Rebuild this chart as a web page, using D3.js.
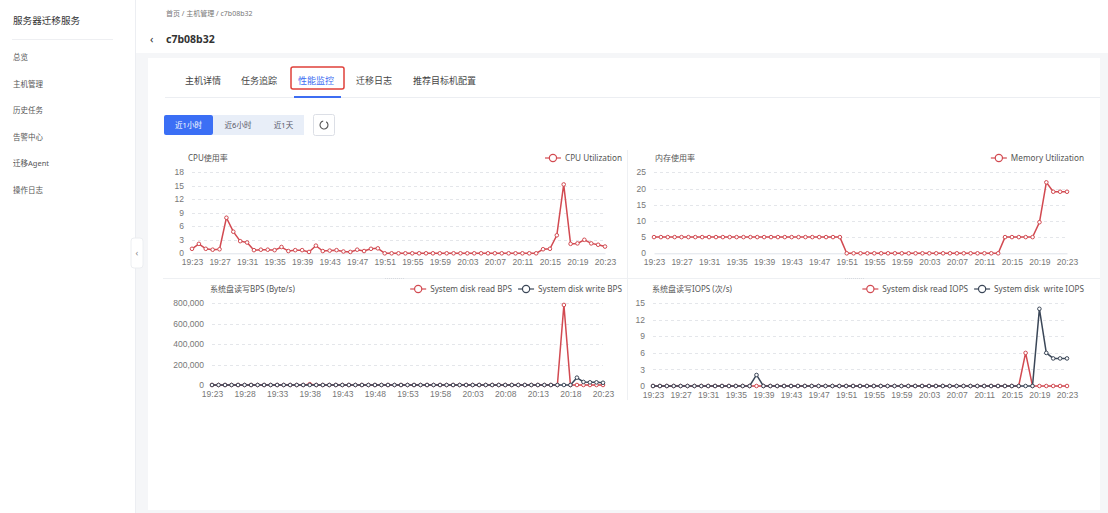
<!DOCTYPE html>
<html>
<head>
<meta charset="utf-8">
<script src="https://cdn.jsdelivr.net/npm/d3@7"></script>
<style>
  html, body { margin: 0; padding: 0; background: #f5f6f8; }
  svg { display: block; font-family: "Noto Sans", "Noto Sans CJK SC", sans-serif; }
</style>
</head>
<body>
<div id="page"></div>
<script>
// categories (one per minute)
const times = ["19:23","19:24","19:25","19:26","19:27","19:28","19:29","19:30","19:31","19:32",
  "19:33","19:34","19:35","19:36","19:37","19:38","19:39","19:40","19:41","19:42",
  "19:43","19:44","19:45","19:46","19:47","19:48","19:49","19:50","19:51","19:52",
  "19:53","19:54","19:55","19:56","19:57","19:58","19:59","20:00","20:01","20:02",
  "20:03","20:04","20:05","20:06","20:07","20:08","20:09","20:10","20:11","20:12",
  "20:13","20:14","20:15","20:16","20:17","20:18","20:19","20:20","20:21","20:22","20:23"];

// tick labels
const ticks4 = ["19:23","19:27","19:31","19:35","19:39","19:43","19:47","19:51","19:55","19:59","20:03","20:07","20:11","20:15","20:19","20:23"];
const ticks5 = ["19:23","19:28","19:33","19:38","19:43","19:48","19:53","19:58","20:03","20:08","20:13","20:18","20:23"];
const cpuYTicks = [0, 3, 6, 9, 12, 15, 18];
const memYTicks = [0, 5, 10, 15, 20, 25];
const bpsYTicks = [0, 200000, 400000, 600000, 800000];
const iopsYTicks = [0, 3, 6, 9, 12, 15];

// series values
const cpuUtil = [1.0,2.1,1.0,0.8,0.9,7.9,4.8,2.7,2.4,0.7,
  0.8,0.8,0.7,1.4,0.5,0.7,0.7,0.3,1.7,0.5,
  0.6,0.7,0.4,0.3,0.8,0.5,1.0,1.1,0,0,
  0,0,0,0,0,0,0,0,0,0,
  0,0,0,0,0,0,0,0,0,0,
  0,0.9,1.0,4.0,15.3,2.1,2.2,3.0,2.2,1.9,1.5];
const memUtil = [5,5,5,5,5,5,5,5,5,5,
  5,5,5,5,5,5,5,5,5,5,
  5,5,5,5,5,5,5,5,0,0,
  0,0,0,0,0,0,0,0,0,0,
  0,0,0,0,0,0,0,0,0,0,
  0,5,5,5,5,5,9.6,21.9,19,19,19];
const bpsRead = [0,0,0,0,0,0,0,0,0,0,
  0,0,0,0,0,8000,0,0,0,0,
  0,0,0,0,0,0,0,0,0,0,
  0,0,0,0,0,0,0,0,0,0,
  0,0,0,0,0,0,0,0,0,0,
  0,0,0,0,784000,0,0,0,0,0,0];
const bpsWrite = [0,0,0,0,0,0,0,0,0,0,
  0,0,0,0,0,0,0,0,0,0,
  0,0,0,0,0,0,0,0,0,0,
  0,0,0,0,0,0,0,0,0,0,
  0,0,0,0,0,0,0,0,0,0,
  0,0,0,0,0,0,72000,30000,26000,26000,22000];
const iopsRead = [0,0,0,0,0,0,0,0,0,0,
  0,0,0,0,0,0,0,0,0,0,
  0,0,0,0,0,0,0,0,0,0,
  0,0,0,0,0,0,0,0,0,0,
  0,0,0,0,0,0,0,0,0,0,
  0,0,0,0,6,0,0,0,0,0,0];
const iopsWrite = [0,0,0,0,0,0,0,0,0,0,
  0,0,0,0,0,2,0,0,0,0,
  0,0,0,0,0,0,0,0,0,0,
  0,0,0,0,0,0,0,0,0,0,
  0,0,0,0,0,0,0,0,0,0,
  0,0,0,0,0,0,14,6,5,5,5];

const menuItems = ["总览", "主机管理", "历史任务", "告警中心", "迁移Agent", "操作日志"];
const tabNames = ["主机详情", "任务追踪", "性能监控", "迁移日志", "推荐目标机配置"];
const rangeButtons = ["近1小时", "近6小时", "近1天"];

const RED = "#d24a51", DARK = "#3b4758";

const W = 1108, H = 513;
const svg = d3.select("#page").append("svg").attr("width", W).attr("height", H);

// ---- page chrome ----
svg.append("rect").attr("width", W).attr("height", H).attr("fill", "#f5f6f8");
svg.append("rect").attr("x", 0).attr("y", 0).attr("width", 135).attr("height", H).attr("fill", "#fff");
svg.append("line").attr("x1", 135.5).attr("x2", 135.5).attr("y1", 0).attr("y2", H).attr("stroke", "#eceef2");
svg.append("rect").attr("x", 136).attr("y", 0).attr("width", W - 136).attr("height", 53).attr("fill", "#fff");

svg.append("text").attr("x", 13).attr("y", 24).attr("font-size", 9.6).attr("fill", "#333").text("服务器迁移服务");
svg.append("line").attr("x1", 12).attr("x2", 113).attr("y1", 39.5).attr("y2", 39.5).attr("stroke", "#eeeff2");
svg.selectAll("text.menu").data(menuItems).join("text").attr("class", "menu")
  .attr("x", 13).attr("y", (d, i) => 60 + i * 26.6)
  .attr("font-size", 7.5).attr("fill", "#555").text(d => d);

// collapse handle
svg.append("rect").attr("x", 131).attr("y", 238).attr("width", 12).attr("height", 30).attr("rx", 3)
  .attr("fill", "#fff").attr("stroke", "#eceef1");
svg.append("text").attr("x", 137).attr("y", 256).attr("font-size", 9).attr("text-anchor", "middle").attr("fill", "#888").text("‹");

// breadcrumb + title
svg.append("text").attr("x", 166).attr("y", 16).attr("font-size", 7).attr("fill", "#777").text("首页 / 主机管理 / c7b08b32");
svg.append("text").attr("x", 150).attr("y", 43).attr("font-size", 11).attr("fill", "#333").text("‹");
svg.append("text").attr("x", 166).attr("y", 43).attr("font-size", 10.5).attr("font-weight", "bold").attr("fill", "#333").text("c7b08b32");

// card
svg.append("rect").attr("x", 148).attr("y", 58).attr("width", 952).attr("height", 452).attr("fill", "#fff");

// tabs
const tabX = [185, 241, 298, 356, 413];
svg.selectAll("text.tab").data(tabNames).join("text").attr("class", "tab")
  .attr("x", (d, i) => tabX[i]).attr("y", 84)
  .attr("font-size", 9).attr("fill", (d, i) => i === 2 ? "#3d6df2" : "#444").text(d => d);
svg.append("line").attr("x1", 165).attr("x2", 1100).attr("y1", 97.5).attr("y2", 97.5).attr("stroke", "#eceef2");
svg.append("rect").attr("x", 294).attr("y", 96).attr("width", 47).attr("height", 2).attr("fill", "#3d6df2");
svg.append("rect").attr("x", 291).attr("y", 67).attr("width", 53).attr("height", 22).attr("rx", 2)
  .attr("fill", "none").attr("stroke", "#e0403a").attr("stroke-width", 1.5);

// time range buttons
const btnX = [164, 213, 263], btnW = [49, 50, 41];
rangeButtons.forEach((b, i) => {
  svg.append("rect").attr("x", btnX[i]).attr("y", 115).attr("width", btnW[i]).attr("height", 20)
    .attr("rx", i === 0 ? 2 : 0).attr("fill", i === 0 ? "#3b6ff5" : "#e8eef8");
  svg.append("text").attr("x", btnX[i] + btnW[i] / 2).attr("y", 128).attr("text-anchor", "middle")
    .attr("font-size", 7.5).attr("fill", i === 0 ? "#fff" : "#556").text(b);
});
svg.append("rect").attr("x", 313.5).attr("y", 114.5).attr("width", 21).attr("height", 21).attr("rx", 2)
  .attr("fill", "#fff").attr("stroke", "#dcdfe6");
svg.append("path").attr("d", d3.arc()({ innerRadius: 4, outerRadius: 4, startAngle: 0.6, endAngle: 2 * Math.PI - 0.2 }))
  .attr("transform", "translate(324,125)").attr("fill", "none").attr("stroke", "#555").attr("stroke-width", 1.1);

// grid separators between panels
svg.append("line").attr("x1", 627.5).attr("x2", 627.5).attr("y1", 150).attr("y2", 400).attr("stroke", "#eef0f3");
svg.append("line").attr("x1", 163).attr("x2", 1100).attr("y1", 278.5).attr("y2", 278.5).attr("stroke", "#eef0f3");
[395, 855].forEach(cx => {
  svg.append("line").attr("x1", cx - 10).attr("x2", cx + 10).attr("y1", 278.5).attr("y2", 278.5)
    .attr("stroke", "#d8dbe0").attr("stroke-dasharray", "1,1");
});

// ---- chart helper ----
function drawChart(cfg) {
  const g = svg.append("g");
  const x = d3.scalePoint().domain(times).range([cfg.x0, cfg.x1]);
  const y = d3.scaleLinear().domain([0, d3.max(cfg.yTicks)]).range([cfg.yb, cfg.yt]);

  // dashed grid
  g.selectAll("line.grid").data(cfg.yTicks.filter(t => t > 0)).join("line")
    .attr("x1", cfg.x0).attr("x2", cfg.x1)
    .attr("y1", d => Math.round(y(d)) + 0.5).attr("y2", d => Math.round(y(d)) + 0.5)
    .attr("stroke", "#e4e6ea").attr("stroke-dasharray", "3,3");

  // y axis
  const ya = g.append("g").attr("transform", `translate(${cfg.x0},0)`)
    .call(d3.axisLeft(y).tickValues(cfg.yTicks).tickSize(0).tickPadding(8).tickFormat(d3.format(",")));
  ya.select(".domain").remove();
  ya.selectAll("text").attr("font-size", 8.5).attr("fill", "#777").attr("font-family", null).attr("dy", "0.3em");

  // x axis
  const xa = g.append("g").attr("transform", `translate(0,${cfg.yb})`)
    .call(d3.axisBottom(x).tickValues(cfg.xTicks).tickSize(0).tickPadding(6));
  xa.select(".domain").attr("stroke", "#dfe3ea");
  xa.selectAll("text").attr("font-size", 8.5).attr("fill", "#777").attr("font-family", null);

  // series
  cfg.series.forEach(s => {
    const line = d3.line().x((d, i) => x(times[i])).y(d => y(d));
    g.append("path").datum(s.values).attr("d", line)
      .attr("fill", "none").attr("stroke", s.color).attr("stroke-width", 1.5);
    g.selectAll(null).data(s.values).join("circle")
      .attr("cx", (d, i) => x(times[i])).attr("cy", d => y(d)).attr("r", 1.8)
      .attr("fill", "#fff").attr("stroke", s.color).attr("stroke-width", 1);
  });

  // title
  g.append("text").attr("x", cfg.titleX).attr("y", cfg.titleY).attr("font-size", 8)
    .attr("fill", "#555").text(cfg.title);

  // legend, laid out from the right
  let right = cfg.legendRight;
  cfg.series.slice().reverse().forEach(s => {
    const t = g.append("text").attr("y", cfg.titleY).attr("font-size", 8.2).attr("fill", "#555")
      .style("white-space", "pre").text(s.name);
    const tw = t.node().getComputedTextLength();
    t.attr("x", right - tw);
    const ix = right - tw - 4 - 16;
    g.append("line").attr("x1", ix).attr("x2", ix + 16).attr("y1", cfg.titleY - 3).attr("y2", cfg.titleY - 3)
      .attr("stroke", s.color).attr("stroke-width", 1.2);
    g.append("circle").attr("cx", ix + 8).attr("cy", cfg.titleY - 3).attr("r", 3.6)
      .attr("fill", "#fff").attr("stroke", s.color).attr("stroke-width", 1.2);
    right = ix - 6;
  });
}

drawChart({ title: "CPU使用率", titleX: 188, titleY: 161, legendRight: 622,
  x0: 192, x1: 605, yt: 172.3, yb: 253.3, yTicks: cpuYTicks, xTicks: ticks4,
  series: [{ name: "CPU Utilization", values: cpuUtil, color: RED }] });

drawChart({ title: "内存使用率", titleX: 655, titleY: 161, legendRight: 1084,
  x0: 654, x1: 1067, yt: 172.3, yb: 253.3, yTicks: memYTicks, xTicks: ticks4,
  series: [{ name: "Memory Utilization", values: memUtil, color: RED }] });

drawChart({ title: "系统盘读写BPS (Byte/s)", titleX: 210, titleY: 292, legendRight: 622,
  x0: 212, x1: 603, yt: 303.3, yb: 385, yTicks: bpsYTicks, xTicks: ticks5,
  series: [{ name: "System disk read BPS", values: bpsRead, color: RED },
           { name: "System disk write BPS", values: bpsWrite, color: DARK }] });

drawChart({ title: "系统盘读写IOPS (次/s)", titleX: 652, titleY: 292, legendRight: 1084,
  x0: 653, x1: 1067, yt: 303.3, yb: 386, yTicks: iopsYTicks, xTicks: ticks4,
  series: [{ name: "System disk read IOPS", values: iopsRead, color: RED },
           { name: "System disk  write IOPS", values: iopsWrite, color: DARK }] });
</script>
</body>
</html>
